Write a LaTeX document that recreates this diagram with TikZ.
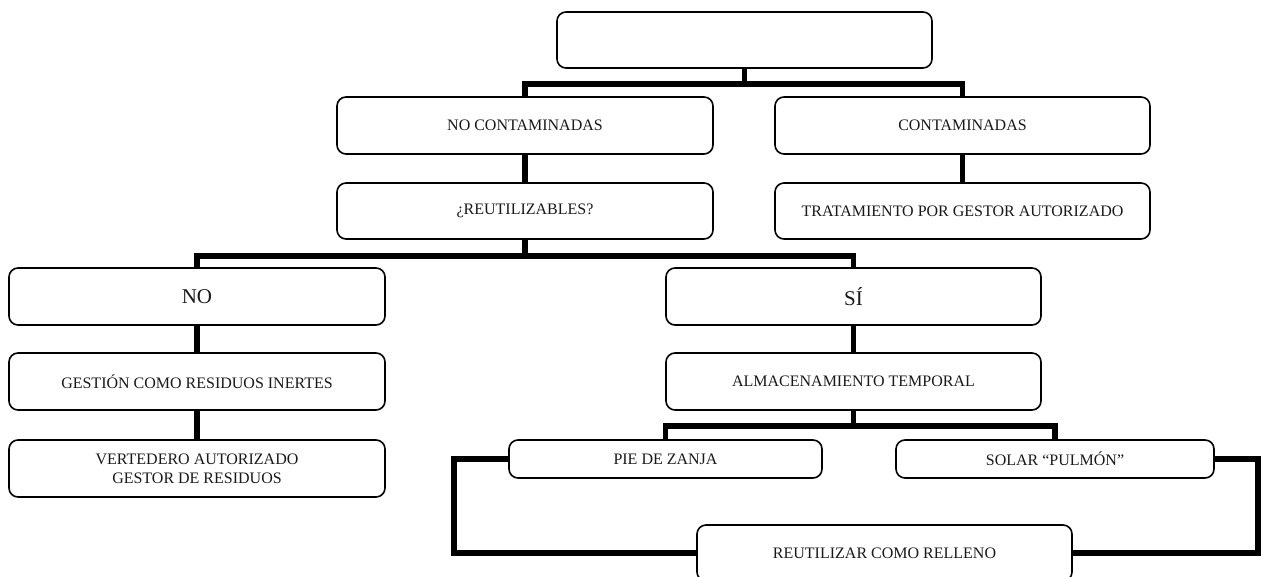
\documentclass[tikz,border=0pt]{standalone}
\usepackage{fontspec}
\setmainfont{Liberation Serif}
\begin{document}
\begin{tikzpicture}[x=1pt,y=-1pt,
  box/.style={draw, line width=1.6pt, rounded corners=9pt, inner sep=0pt,
    align=center, font=\fontsize{16}{19.2}\selectfont, text=black!90},
  bigtext/.style={font=\fontsize{21}{25}\selectfont},
  conn/.style={line width=5.5pt, line join=miter}]
\useasboundingbox (0,0) rectangle (1268,577);
% nodes
\node[box, minimum width=375, minimum height=56] (top) at (744.5,40) {};
\node[box, minimum width=376, minimum height=57] (noc) at (525,125.5) {NO CONTAMINADAS};
\node[box, minimum width=375, minimum height=57] (con) at (962.5,125.5) {CONTAMINADAS};
\node[box, minimum width=376, minimum height=56] (reu) at (525,211) {¿REUTILIZABLES?};
\node[box, minimum width=375, minimum height=56] (tra) at (962.5,211) {TRATAMIENTO POR GESTOR AUTORIZADO};
\node[box, bigtext, minimum width=376, minimum height=57] (no) at (197,296.5) {NO};
\node[box, bigtext, minimum width=375, minimum height=57] (si) at (853.5,296.5) {SÍ};
\node[box, minimum width=376, minimum height=57] (ges) at (197,381.5) {GESTIÓN COMO RESIDUOS INERTES};
\node[box, minimum width=376, minimum height=57] (ver) at (197,468.5) {VERTEDERO AUTORIZADO\\GESTOR DE RESIDUOS};
\node[box, minimum width=375, minimum height=57] (alm) at (853.5,381.5) {ALMACENAMIENTO TEMPORAL};
\node[box, minimum width=313, minimum height=38] (pie) at (665.5,459) {PIE DE ZANJA};
\node[box, minimum width=318, minimum height=38] (sol) at (1055,459) {SOLAR “PULMÓN”};
\node[box, minimum width=375, minimum height=56] (rel) at (884.5,553) {REUTILIZAR COMO RELLENO};
% connectors
\draw[conn] (top.south) -- ++(0,15) -| (noc.north);
\draw[conn] (top.south) -- ++(0,15) -| (con.north);
\draw[conn] (noc) -- (reu);
\draw[conn] (con) -- (tra);
\draw[conn] (reu.south) -- ++(0,16) -| (no.north);
\draw[conn] (reu.south) -- ++(0,16) -| (si.north);
\draw[conn] (no) -- (ges);
\draw[conn] (ges) -- (ver);
\draw[conn] (si) -- (alm);
\draw[conn] (alm.south) -- ++(0,15) -| (pie.north);
\draw[conn] (alm.south) -- ++(0,15) -| (sol.north);
\draw[conn] (pie.west) -- ++(-54,0) |- (rel.west);
\draw[conn] (sol.east) -- ++(43,0) |- (rel.east);
\end{tikzpicture}
\end{document}
